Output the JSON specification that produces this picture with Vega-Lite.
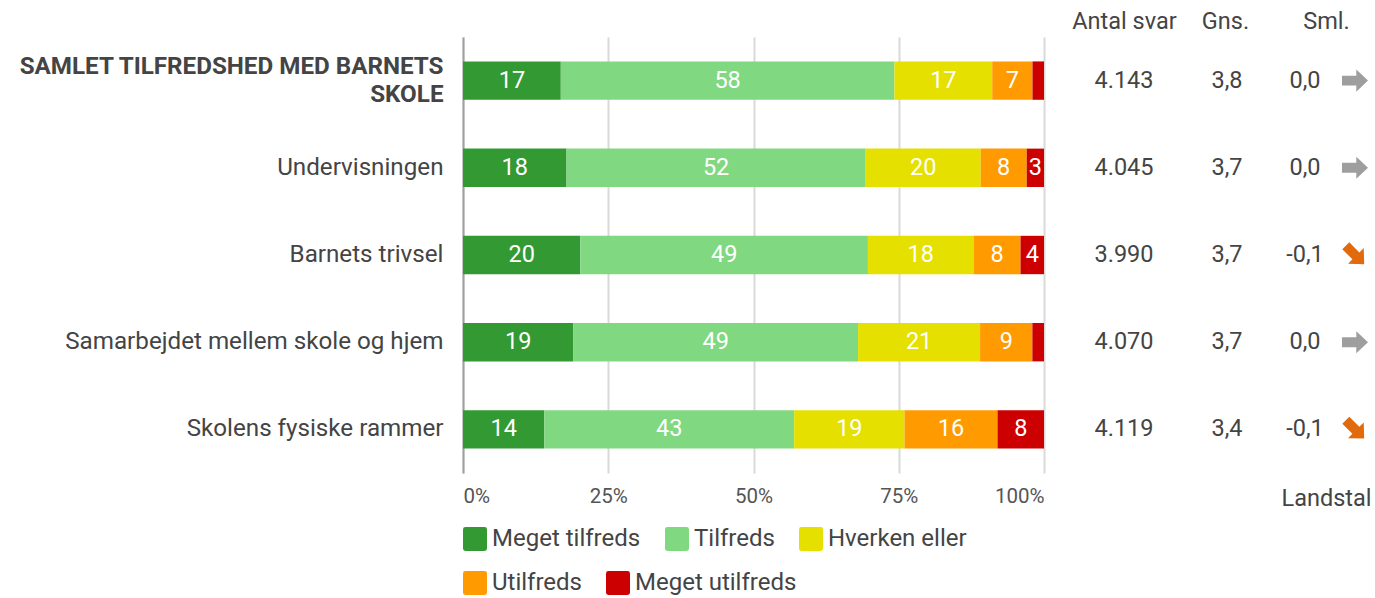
{
  "$schema": "https://vega.github.io/schema/vega-lite/v6.json",
  "padding": {"left": 17, "top": 9, "right": 0, "bottom": 0},
  "spacing": 20,
  "config": {"font": "Roboto", "view": {"stroke": null}, "legend": {"layout": {"bottom": {"direction": "vertical", "anchor": "start", "margin": 20}}}},
  "resolve": {"scale": {"color": "independent", "shape": "independent", "fill": "independent"}, "legend": {"color": "independent", "shape": "independent", "fill": "independent"}},
  "datasets": {
    "bars": [
      {"item": "SAMLET TILFREDSHED MED BARNETS SKOLE", "cat": "Meget tilfreds", "rank": 1, "value": 17},
      {"item": "SAMLET TILFREDSHED MED BARNETS SKOLE", "cat": "Tilfreds", "rank": 2, "value": 58},
      {"item": "SAMLET TILFREDSHED MED BARNETS SKOLE", "cat": "Hverken eller", "rank": 3, "value": 17},
      {"item": "SAMLET TILFREDSHED MED BARNETS SKOLE", "cat": "Utilfreds", "rank": 4, "value": 7},
      {"item": "SAMLET TILFREDSHED MED BARNETS SKOLE", "cat": "Meget utilfreds", "rank": 5, "value": 2},
      {"item": "Undervisningen", "cat": "Meget tilfreds", "rank": 1, "value": 18},
      {"item": "Undervisningen", "cat": "Tilfreds", "rank": 2, "value": 52},
      {"item": "Undervisningen", "cat": "Hverken eller", "rank": 3, "value": 20},
      {"item": "Undervisningen", "cat": "Utilfreds", "rank": 4, "value": 8},
      {"item": "Undervisningen", "cat": "Meget utilfreds", "rank": 5, "value": 3},
      {"item": "Barnets trivsel", "cat": "Meget tilfreds", "rank": 1, "value": 20},
      {"item": "Barnets trivsel", "cat": "Tilfreds", "rank": 2, "value": 49},
      {"item": "Barnets trivsel", "cat": "Hverken eller", "rank": 3, "value": 18},
      {"item": "Barnets trivsel", "cat": "Utilfreds", "rank": 4, "value": 8},
      {"item": "Barnets trivsel", "cat": "Meget utilfreds", "rank": 5, "value": 4},
      {"item": "Samarbejdet mellem skole og hjem", "cat": "Meget tilfreds", "rank": 1, "value": 19},
      {"item": "Samarbejdet mellem skole og hjem", "cat": "Tilfreds", "rank": 2, "value": 49},
      {"item": "Samarbejdet mellem skole og hjem", "cat": "Hverken eller", "rank": 3, "value": 21},
      {"item": "Samarbejdet mellem skole og hjem", "cat": "Utilfreds", "rank": 4, "value": 9},
      {"item": "Samarbejdet mellem skole og hjem", "cat": "Meget utilfreds", "rank": 5, "value": 2},
      {"item": "Skolens fysiske rammer", "cat": "Meget tilfreds", "rank": 1, "value": 14},
      {"item": "Skolens fysiske rammer", "cat": "Tilfreds", "rank": 2, "value": 43},
      {"item": "Skolens fysiske rammer", "cat": "Hverken eller", "rank": 3, "value": 19},
      {"item": "Skolens fysiske rammer", "cat": "Utilfreds", "rank": 4, "value": 16},
      {"item": "Skolens fysiske rammer", "cat": "Meget utilfreds", "rank": 5, "value": 8}
    ],
    "table": [
      {"item": "SAMLET TILFREDSHED MED BARNETS SKOLE", "antal": "4.143", "gns": "3,8", "sml": "0,0", "trend": "flat"},
      {"item": "Undervisningen", "antal": "4.045", "gns": "3,7", "sml": "0,0", "trend": "flat"},
      {"item": "Barnets trivsel", "antal": "3.990", "gns": "3,7", "sml": "-0,1", "trend": "down"},
      {"item": "Samarbejdet mellem skole og hjem", "antal": "4.070", "gns": "3,7", "sml": "0,0", "trend": "flat"},
      {"item": "Skolens fysiske rammer", "antal": "4.119", "gns": "3,4", "sml": "-0,1", "trend": "down"}
    ]
  },
  "hconcat": [
    {
      "width": 581,
      "height": 436,
      "data": {"name": "bars"},
      "encoding": {
        "y": {
          "field": "item", "type": "nominal", "title": null,
          "scale": {"domain": ["SAMLET TILFREDSHED MED BARNETS SKOLE", "Undervisningen", "Barnets trivsel", "Samarbejdet mellem skole og hjem", "Skolens fysiske rammer"], "paddingInner": 0.56, "paddingOuter": 0.28},
          "axis": {
            "domain": true, "domainColor": "#a0a0a0", "domainWidth": 2,
            "ticks": false, "labelPadding": 20, "labelLimit": 0,
            "labelFontSize": 24.2, "labelColor": "#444444", "labelLineHeight": 28,
            "labelExpr": "datum.value == 'SAMLET TILFREDSHED MED BARNETS SKOLE' ? ['SAMLET TILFREDSHED MED BARNETS', 'SKOLE'] : datum.value",
            "labelOffset": {"condition": {"test": "datum.value == 'SAMLET TILFREDSHED MED BARNETS SKOLE'", "value": -14}, "value": 0},
            "labelFontWeight": {"condition": {"test": "datum.value == 'SAMLET TILFREDSHED MED BARNETS SKOLE'", "value": "bold"}, "value": "normal"}
          }
        },
        "order": {"field": "rank", "type": "quantitative"}
      },
      "layer": [
        {
          "mark": {"type": "bar"},
          "encoding": {
            "x": {
              "field": "value", "type": "quantitative", "title": null, "stack": "normalize",
              "scale": {"domain": [0, 1], "nice": false},
              "axis": {
                "values": [0, 0.25, 0.5, 0.75, 1], "format": ".0%",
                "grid": true, "gridColor": "#d9d9d9", "gridWidth": 2,
                "domain": false, "ticks": false, "labelFlush": true,
                "labelFontSize": 20.5, "labelColor": "#555555", "labelPadding": 13
              }
            },
            "color": {
              "field": "cat", "type": "nominal",
              "scale": {"domain": ["Meget tilfreds", "Tilfreds", "Hverken eller", "Utilfreds", "Meget utilfreds"], "range": ["#339933", "#80d880", "#e5e000", "#ff9a00", "#cc0000"]},
              "legend": {
                "orient": "bottom", "direction": "horizontal", "columns": 3,
                "values": ["Meget tilfreds", "Tilfreds", "Hverken eller"],
                "title": null, "offset": 20,
                "symbolType": "M -0.8 -1 L 0.8 -1 Q 1 -1 1 -0.8 L 1 0.8 Q 1 1 0.8 1 L -0.8 1 Q -1 1 -1 0.8 L -1 -0.8 Q -1 -1 -0.8 -1 Z",
                "symbolSize": 576, "symbolStrokeWidth": 0, "symbolOpacity": 1,
                "labelFontSize": 24, "labelColor": "#444444", "labelOffset": 5,
                "columnPadding": 24, "labelLimit": 0
              }
            }
          }
        },
        {
          "mark": {"type": "point", "filled": true, "opacity": 1, "size": 0},
          "encoding": {
            "x": {"field": "value", "type": "quantitative", "stack": "normalize", "bandPosition": 0.5},
            "fill": {
              "field": "cat", "type": "nominal",
              "scale": {"domain": ["Utilfreds", "Meget utilfreds"], "range": ["#ff9a00", "#cc0000"]},
              "legend": {
                "orient": "bottom", "direction": "horizontal", "columns": 2,
                "values": ["Utilfreds", "Meget utilfreds"],
                "title": null, "offset": 20,
                "symbolType": "M -0.8 -1 L 0.8 -1 Q 1 -1 1 -0.8 L 1 0.8 Q 1 1 0.8 1 L -0.8 1 Q -1 1 -1 0.8 L -1 -0.8 Q -1 -1 -0.8 -1 Z",
                "symbolSize": 576, "symbolStrokeWidth": 0, "symbolOpacity": 1,
                "labelFontSize": 24, "labelColor": "#444444", "labelOffset": 5,
                "columnPadding": 24, "labelLimit": 0
              }
            }
          }
        },
        {
          "mark": {"type": "text", "color": "white", "fontSize": 23.5},
          "encoding": {
            "x": {"field": "value", "type": "quantitative", "stack": "normalize", "bandPosition": 0.5},
            "detail": {"field": "cat", "type": "nominal"},
            "text": {"field": "value", "type": "quantitative", "condition": {"test": "datum.value < 3", "value": ""}}
          }
        }
      ]
    },
    {
      "width": 322,
      "height": 436,
      "data": {"name": "table"},
      "encoding": {
        "y": {
          "field": "item", "type": "nominal", "axis": null,
          "scale": {"domain": ["SAMLET TILFREDSHED MED BARNETS SKOLE", "Undervisningen", "Barnets trivsel", "Samarbejdet mellem skole og hjem", "Skolens fysiske rammer"], "paddingInner": 0.56, "paddingOuter": 0.28}
        }
      },
      "layer": [
        {
          "mark": {"type": "text", "fontSize": 23.5, "color": "#444444"},
          "encoding": {
            "x": {
              "datum": "Antal svar", "type": "nominal",
              "scale": {"type": "point", "domain": ["Antal svar", "Gns.", "Sml."], "padding": 0.594},
              "axis": {"orient": "top", "title": null, "domain": false, "ticks": false, "labelPadding": 4, "labelFontSize": 23.5, "labelColor": "#444444", "labelAngle": 0}
            },
            "text": {"field": "antal"}
          }
        },
        {
          "mark": {"type": "text", "fontSize": 23.5, "color": "#444444", "xOffset": 2},
          "encoding": {
            "x": {"datum": "Gns.", "type": "nominal", "axis": null},
            "text": {"field": "gns"}
          }
        },
        {
          "mark": {"type": "text", "fontSize": 23.5, "color": "#444444", "xOffset": -21},
          "encoding": {
            "x": {"datum": "Sml.", "type": "nominal", "axis": null},
            "text": {"field": "sml"}
          }
        },
        {
          "mark": {"type": "point", "filled": true, "opacity": 1, "size": 676, "xOffset": 29},
          "encoding": {
            "x": {
              "datum": "Sml.", "type": "nominal",
              "axis": {"orient": "bottom", "title": null, "domain": false, "ticks": false, "labelPadding": 13, "labelFontSize": 23.5, "labelColor": "#444444", "labelAngle": 0,
                "labelExpr": "datum.value == 'Sml.' ? 'Landstal' : ''"}
            },
            "shape": {
              "field": "trend", "type": "nominal", "legend": null,
              "scale": {"domain": ["flat", "down"], "range": ["M -1 -0.38 L 0.1 -0.38 L 0.1 -0.85 L 1 0 L 0.1 0.85 L 0.1 0.38 L -1 0.38 Z", "M -0.44 -0.976 L 0.336 -0.2 L 0.672 -0.53 L 0.707 0.707 L -0.53 0.672 L -0.2 0.336 L -0.976 -0.44 Z"]}
            },
            "color": {
              "field": "trend", "type": "nominal", "legend": null,
              "scale": {"domain": ["flat", "down"], "range": ["#9e9e9e", "#e06a0c"]}
            }
          }
        }
      ]
    }
  ]
}
